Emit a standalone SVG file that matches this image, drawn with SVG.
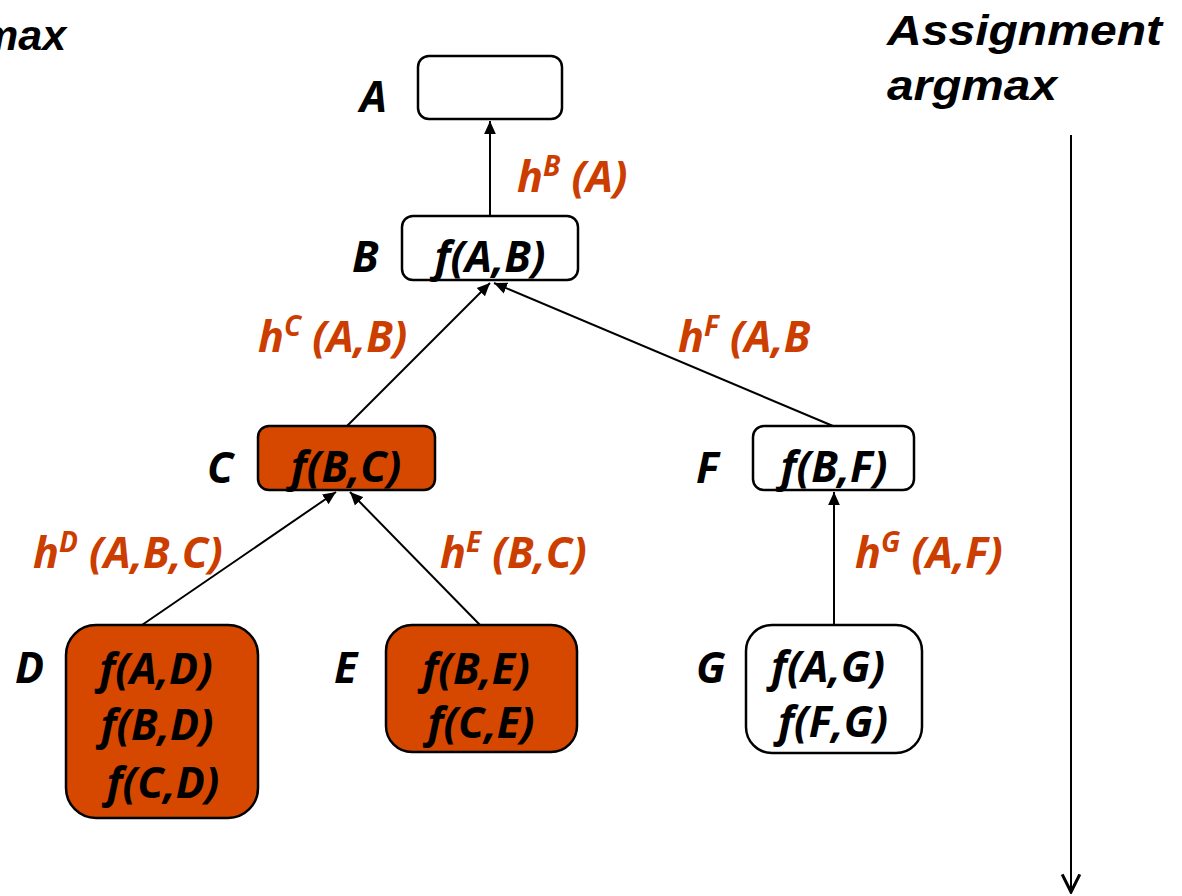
<svg xmlns="http://www.w3.org/2000/svg" width="1182" height="896" viewBox="0 0 1182 896">
<defs>
<style>
.box{fill:#fff;stroke:#000;stroke-width:2.5}
.hot{fill:#D64700;stroke:#000;stroke-width:2.5}
.t{font-family:"Open Sans",Lato,"Liberation Sans",sans-serif;font-weight:bold;font-style:italic;font-size:43px;fill:#000}
.lbl{font-family:"Open Sans",Lato,"Liberation Sans",sans-serif;font-weight:bold;font-style:italic;font-size:43px;fill:#CC3D00}
.sup{font-size:28px}
.hd{font-family:"Liberation Sans",Arial,sans-serif;font-weight:bold;font-style:italic;font-size:43px;fill:#000}
.ln{stroke:#000;stroke-width:2;fill:none}
</style>
<marker id="ah" viewBox="0 0 10 10" refX="10" refY="5" markerWidth="13" markerHeight="13" markerUnits="userSpaceOnUse" orient="auto"><path d="M0,0.5 L10,5 L0,9.5 z" fill="#000"/></marker>
<marker id="va" viewBox="0 0 10 10" refX="9" refY="5" markerWidth="22" markerHeight="22" markerUnits="userSpaceOnUse" orient="auto"><path d="M1,1 L9,5 L1,9" fill="none" stroke="#000" stroke-width="1.4"/></marker>
</defs>
<rect width="1182" height="896" fill="#fff"/>
<text class="hd" x="-20" y="50">max</text>
<text class="hd" x="887" y="45" textLength="275" lengthAdjust="spacingAndGlyphs">Assignment</text>
<text class="hd" x="887" y="100" textLength="170" lengthAdjust="spacingAndGlyphs">argmax</text>
<g id="connectors">
<line class="ln" x1="490" y1="216" x2="490" y2="121" marker-end="url(#ah)"/>
<line class="ln" x1="347" y1="426" x2="490" y2="283" marker-end="url(#ah)"/>
<line class="ln" x1="833" y1="426" x2="494" y2="283" marker-end="url(#ah)"/>
<line class="ln" x1="142" y1="625" x2="336" y2="492" marker-end="url(#ah)"/>
<line class="ln" x1="480" y1="625" x2="350" y2="492" marker-end="url(#ah)"/>
<line class="ln" x1="834" y1="625" x2="834" y2="492" marker-end="url(#ah)"/>
<line class="ln" x1="1071" y1="135" x2="1071" y2="892" marker-end="url(#va)"/>
</g>
<g id="edge-labels">
<text class="lbl" x="517" y="192">h<tspan class="sup" dy="-16">B</tspan><tspan dy="16"> (A)</tspan></text>
<text class="lbl" x="258" y="352">h<tspan class="sup" dy="-16">C</tspan><tspan dy="16"> (A,B)</tspan></text>
<text class="lbl" x="678" y="352">h<tspan class="sup" dy="-16">F</tspan><tspan dy="16"> (A,B</tspan></text>
<text class="lbl" x="33" y="568">h<tspan class="sup" dy="-16">D</tspan><tspan dy="16"> (A,B,C)</tspan></text>
<text class="lbl" x="440" y="568">h<tspan class="sup" dy="-16">E</tspan><tspan dy="16"> (B,C)</tspan></text>
<text class="lbl" x="855" y="568">h<tspan class="sup" dy="-16">G</tspan><tspan dy="16"> (A,F)</tspan></text>
</g>
<g id="node-A">
<rect class="box" x="418" y="56" width="144" height="63" rx="11"/>
<text class="t" x="360" y="112">A</text>
</g>
<g id="node-B">
<rect class="box" x="402" y="216" width="176" height="64" rx="11"/>
<text class="t" x="352" y="272">B</text>
<text class="t" x="490" y="272" text-anchor="middle">f(A,B)</text>
</g>
<g id="node-C">
<rect class="hot" x="258" y="426" width="177" height="64" rx="11"/>
<text class="t" x="207" y="483">C</text>
<text class="t" x="346" y="482" text-anchor="middle">f(B,C)</text>
</g>
<g id="node-F">
<rect class="box" x="753" y="426" width="161" height="64" rx="11"/>
<text class="t" x="696" y="483">F</text>
<text class="t" x="834" y="482" text-anchor="middle">f(B,F)</text>
</g>
<g id="node-D">
<rect class="hot" x="66" y="625" width="192" height="193" rx="30"/>
<text class="t" x="15" y="683">D</text>
<text class="t" x="156" y="684" text-anchor="middle">f(A,D)</text>
<text class="t" x="157" y="740" text-anchor="middle">f(B,D)</text>
<text class="t" x="163" y="798" text-anchor="middle">f(C,D)</text>
</g>
<g id="node-E">
<rect class="hot" x="386" y="625" width="191" height="127" rx="26"/>
<text class="t" x="334" y="683">E</text>
<text class="t" x="476" y="684" text-anchor="middle">f(B,E)</text>
<text class="t" x="481" y="738" text-anchor="middle">f(C,E)</text>
</g>
<g id="node-G">
<rect class="box" x="746" y="625" width="176" height="128" rx="26"/>
<text class="t" x="696" y="683">G</text>
<text class="t" x="828" y="682" text-anchor="middle">f(A,G)</text>
<text class="t" x="833" y="737" text-anchor="middle">f(F,G)</text>
</g>
</svg>
